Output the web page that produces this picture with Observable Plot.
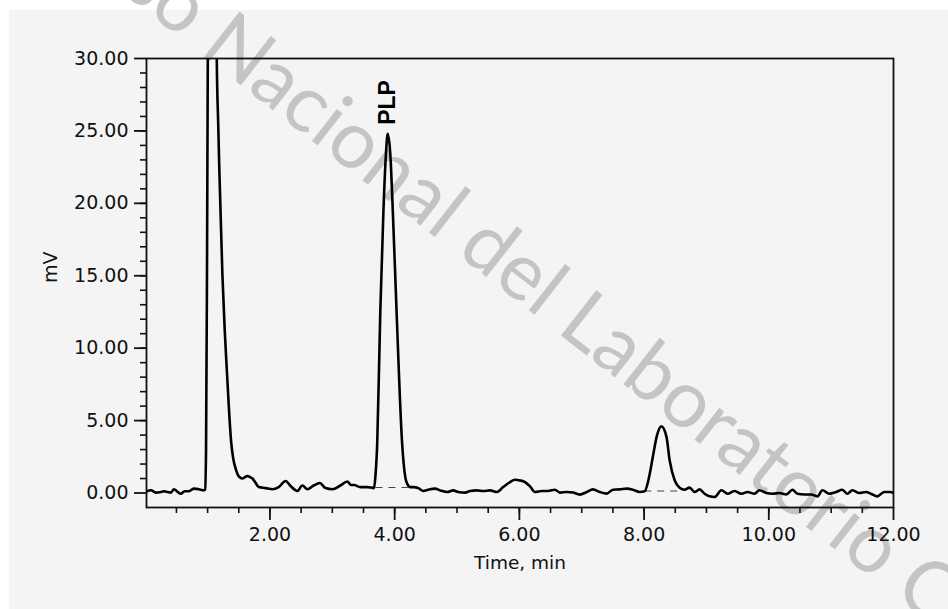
<!DOCTYPE html>
<html>
<head>
<meta charset="utf-8">
<script src="https://cdn.jsdelivr.net/npm/d3@7"></script>
<script src="https://cdn.jsdelivr.net/npm/@observablehq/plot@0.6"></script>
<style>
  html, body { margin: 0; padding: 0; background: #ffffff; }
  #chart { width: 948px; height: 609px; overflow: hidden; }
</style>
</head>
<body>
<div id="chart"></div>
<script>
// ---- Data ----
const time = [
  0.02, 0.09, 0.17, 0.25, 0.30, 0.36, 0.41, 0.46, 0.52, 0.57, 0.63, 0.70, 0.74, 0.78, 0.86, 0.94, 0.96,
  0.975, 0.99, 1.003, 1.02, 1.05, 1.07, 1.09, 1.11, 1.13, 1.147, 1.17, 1.19, 1.237, 1.275, 1.312, 1.345,
  1.376, 1.41, 1.456, 1.50, 1.56, 1.60, 1.64, 1.68, 1.72, 1.77, 1.82, 1.93, 2.04, 2.14, 2.25, 2.33, 2.44,
  2.52, 2.60, 2.70, 2.80, 2.89, 3.00, 3.13, 3.24, 3.30, 3.35, 3.45, 3.56, 3.67,
  3.69, 3.72, 3.77, 3.82, 3.86, 3.888, 3.93, 3.97, 4.03, 4.12, 4.17, 4.20, 4.25, 4.30, 4.38, 4.46, 4.54,
  4.65, 4.73, 4.84, 4.94, 5.02, 5.13, 5.21, 5.32, 5.42, 5.53, 5.64, 5.74, 5.85, 5.93, 6.01, 6.09, 6.17,
  6.25, 6.36, 6.46, 6.57, 6.65, 6.76, 6.86, 6.97, 7.08, 7.18, 7.29, 7.40, 7.50, 7.61, 7.72, 7.82, 7.93,
  8.01, 8.07, 8.14, 8.20, 8.278, 8.36, 8.41, 8.49, 8.57, 8.65, 8.73, 8.81, 8.89, 8.97, 9.05, 9.13, 9.24,
  9.34, 9.45, 9.56, 9.66, 9.77, 9.85, 9.96, 10.06, 10.17, 10.28, 10.38, 10.46, 10.57, 10.68, 10.78, 10.86,
  10.97, 11.08, 11.18, 11.26, 11.34, 11.45, 11.56, 11.64, 11.74, 11.85, 11.95, 12.0
];
const signal = [
  0.10, 0.19, 0.03, 0.07, 0.12, 0.07, 0.03, 0.26, 0.07, -0.05, 0.12, 0.12, 0.22, 0.30, 0.26, 0.19, 0.25,
  3.0, 15, 30, 55, 85, 90, 80, 58, 40, 30, 25.5, 22, 15.1, 11.2, 8.2, 5.6,
  3.6, 2.4, 1.6, 1.15, 1.0, 1.1, 1.17, 1.1, 1.0, 0.7, 0.41, 0.34, 0.26, 0.41, 0.83, 0.48, 0.14,
  0.52, 0.26, 0.52, 0.69, 0.34, 0.26, 0.52, 0.80, 0.55, 0.55, 0.41, 0.41, 0.34,
  1.1, 3.4, 12.6, 19.5, 23.4, 24.8, 23.4, 19.5, 12.6, 3.4, 1.1, 0.65, 0.41, 0.41, 0.34, 0.14, 0.23,
  0.30, 0.18, 0.07, 0.18, 0.07, 0.03, 0.14, 0.18, 0.14, 0.18, 0.07, 0.41, 0.76, 0.92, 0.87, 0.76, 0.46,
  0.07, 0.14, 0.14, 0.23, 0.03, 0.07, 0.03, -0.11, 0.07, 0.25, 0.07, -0.04, 0.23, 0.25, 0.30, 0.23, 0.07,
  0.12, 0.9, 2.48, 3.86, 4.6, 3.86, 2.26, 0.88, 0.37, 0.23, 0.37, 0.07, 0.25, -0.05, -0.23, -0.28, 0.19,
  -0.05, 0.14, -0.05, 0.07, -0.05, 0.19, 0.0, -0.05, 0.0, -0.1, 0.23, -0.05, -0.1, -0.1, -0.23, 0.19,
  -0.05, 0.07, 0.23, -0.05, 0.19, 0.0, 0.07, -0.05, -0.23, 0.07, 0.07, 0.0
];

// integration baselines (dashed)
const baselineStart = [3.70, 8.01];
const baselineEnd = [4.22, 8.57];
const baselineLevel = [0.38, 0.14];

// peak annotation
const peakNames = ["PLP"];
const peakTimes = [3.888];
const peakHeights = [24.8];

// ticks
const xTicks = [2, 4, 6, 8, 10, 12];
const yTicks = [0, 5, 10, 15, 20, 25, 30];
const xMinorTicks = d3.range(0.5, 12, 0.5);
const yMinorTicks = d3.range(1, 30, 1);

const xLabel = "Time, min";
const yLabel = "mV";
const watermark = "so Nacional del Laboratorio C";

// ---- Build tables ----
const trace = time.map((t, i) => ({t, v: signal[i]}));
const baselines = baselineStart.map((s, i) => ({x1: s, x2: baselineEnd[i], y: baselineLevel[i]}));
const peaks = peakNames.map((name, i) => ({name, t: peakTimes[i], v: peakHeights[i]}));

const font = "'DejaVu Sans', 'Liberation Sans', sans-serif";

const chart = Plot.plot({
  width: 948,
  height: 609,
  marginLeft: 146,
  marginRight: 55,
  marginTop: 58,
  marginBottom: 102,
  style: {fontFamily: font, fontSize: "19px", color: "#111"},
  x: {domain: [0.02, 12], label: null},
  y: {domain: [-1.0, 30], label: null},
  marks: [
    Plot.text([watermark], {
      text: d => d, frameAnchor: "top-left", dx: 380, dy: 250, rotate: 38,
      textAnchor: "middle", lineAnchor: "bottom",
      fill: "#c4c4c4", fontSize: 80, fontFamily: "Lato, 'Noto Sans', sans-serif"
    }),
    Plot.ruleY(baselines, {y: "y", x1: "x1", x2: "x2", stroke: "#444", strokeWidth: 1.2, strokeDasharray: "7,6"}),
    Plot.line(trace, {x: "t", y: "v", curve: "monotone-x", stroke: "#000", strokeWidth: 2.6, clip: true}),
    Plot.frame({stroke: "#111", strokeWidth: 1.8}),
    Plot.axisY(yTicks, {tickSize: 12, tickPadding: 6, strokeWidth: 1.8, tickFormat: d => d.toFixed(2), label: null, fontSize: 19}),
    Plot.axisY(yMinorTicks, {tickSize: 6, strokeWidth: 1.6, tickFormat: () => "", label: null}),
    Plot.axisX(xTicks, {tickSize: 13, tickPadding: 7, strokeWidth: 1.8, tickFormat: d => d.toFixed(2), label: null, fontSize: 19}),
    Plot.axisX(xMinorTicks, {tickSize: 6, strokeWidth: 1.6, tickFormat: () => "", label: null}),
    Plot.text(peaks, {
      x: "t", y: "v", text: "name", rotate: -90, textAnchor: "start", dy: -9,
      fontWeight: "bold", fontSize: 23, fontFamily: "'Liberation Sans Narrow', 'Liberation Sans', sans-serif", fill: "#000"
    }),
    Plot.text([xLabel], {text: d => d, frameAnchor: "bottom", dy: 61, fontSize: 18.5, fill: "#111"}),
    Plot.text([yLabel], {text: d => d, frameAnchor: "left", dx: -96, rotate: -90, fontSize: 19, fill: "#111"})
  ]
});
chart.style.background = "linear-gradient(to right, #ffffff 9px, rgba(255,255,255,0) 9px), linear-gradient(to bottom, #ffffff 10px, #f4f4f4 10px)";
chart.style.maxWidth = "none";
document.getElementById("chart").appendChild(chart);
</script>
</body>
</html>
